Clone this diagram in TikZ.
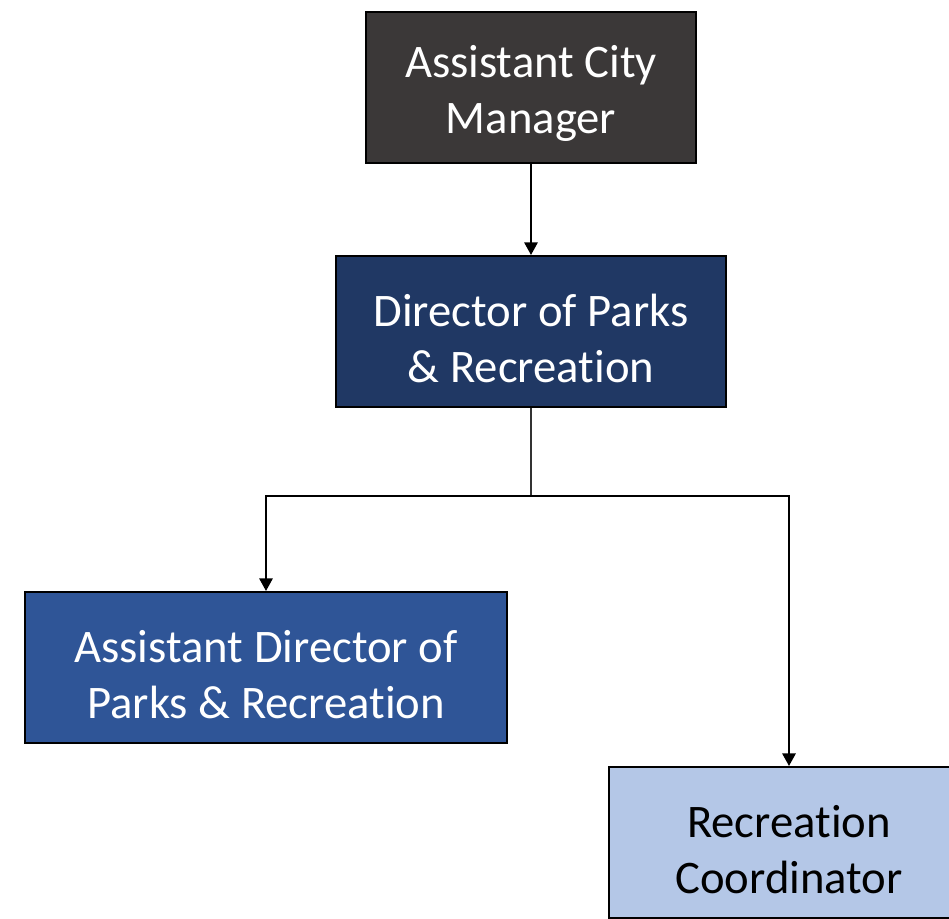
\documentclass[tikz,border=0pt]{standalone}
\usepackage{fontspec}
\setmainfont[Ligatures=NoCommon]{Carlito}
\usetikzlibrary{arrows.meta}
\definecolor{acmfill}{HTML}{3B3838}
\definecolor{dirfill}{HTML}{203864}
\definecolor{adfill}{HTML}{2F5597}
\definecolor{rcfill}{HTML}{B4C7E7}
\newcommand{\lowerstrut}{\rule{0pt}{34pt}}
\begin{document}
\begin{tikzpicture}[x=0.75pt,y=-0.75pt,
  orgbox/.style={draw=black,line width=1.5pt,align=center,inner sep=0pt,
    font=\fontsize{35}{42}\selectfont,minimum height=113.25pt},
  conn/.style={line width=1.6pt,-{Triangle[width=10pt,length=9.5pt]}},
  trunk/.style={line width=0.8pt,draw=black!80}]
\useasboundingbox (0,0) rectangle (949,918);
\clip (0,0) rectangle (949,918);
\node[orgbox,fill=acmfill,text=white,minimum width=247.5pt] (acm) at (531,87) {\lowerstrut Assistant City\\Manager};
\node[orgbox,fill=dirfill,text=white,minimum width=292.5pt] (dir) at (531,331.5) {\lowerstrut Director of Parks\\\& Recreation};
\node[orgbox,fill=adfill,text=white,minimum width=361.5pt] (ad) at (266,667.5) {\lowerstrut Assistant Director of\\Parks \& Recreation};
\node[orgbox,fill=rcfill,text=black,minimum width=270pt] (rc) at (789,842.5) {\lowerstrut Recreation\\Coordinator};
\coordinate (j) at (531,496);
\draw[conn] (acm.south) -- (dir.north);
\draw[trunk] (dir.south) -- (j);
\draw[conn] (j) -| (ad.north);
\draw[conn] (j) -| (rc.north);
\end{tikzpicture}
\end{document}
